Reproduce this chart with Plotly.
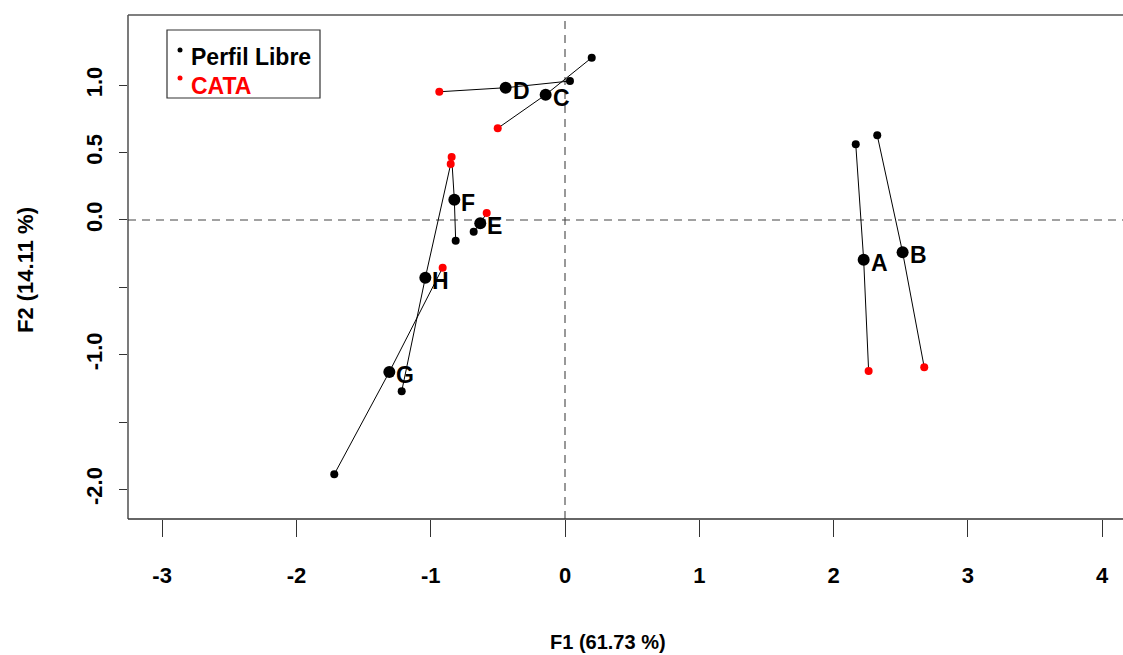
import plotly.graph_objects as go

# ---- data ----
products = ["A", "B", "C", "D", "E", "F", "G", "H"]
center_x = [2.224, 2.514, -0.144, -0.442, -0.631, -0.824, -1.308, -1.040]
center_y = [-0.295, -0.240, 0.930, 0.982, -0.024, 0.151, -1.128, -0.428]
libre_x = [2.165, 2.325, 0.199, 0.037, -0.680, -0.814, -1.718, -1.216]
libre_y = [0.562, 0.629, 1.205, 1.032, -0.087, -0.154, -1.888, -1.272]
cata_x = [2.261, 2.675, -0.501, -0.936, -0.583, -0.844, -0.911, -0.851]
cata_y = [-1.121, -1.094, 0.681, 0.952, 0.052, 0.468, -0.354, 0.416]
group_names = ["Perfil Libre", "CATA"]
x_ticks = [-3, -2, -1, 0, 1, 2, 3, 4]
y_ticks = [-2.0, -1.5, -1.0, -0.5, 0.0, 0.5, 1.0]
y_ticklabels = ["-2.0", "", "-1.0", "", "0.0", "0.5", "1.0"]
x_title = "F1 (61.73 %)"
y_title = "F2 (14.11 %)"

FONT = "Liberation Sans, Arial, Helvetica, sans-serif"

# segments libre -> center -> cata
seg_x, seg_y = [], []
for i in range(len(products)):
    seg_x += [libre_x[i], center_x[i], cata_x[i], None]
    seg_y += [libre_y[i], center_y[i], cata_y[i], None]

fig = go.Figure()
fig.add_trace(go.Scatter(x=seg_x, y=seg_y, mode="lines",
                         line=dict(color="black", width=1), hoverinfo="skip",
                         showlegend=False))
fig.add_trace(go.Scatter(x=libre_x, y=libre_y, mode="markers",
                         marker=dict(color="black", size=8), name=group_names[0],
                         showlegend=False))
fig.add_trace(go.Scatter(x=cata_x, y=cata_y, mode="markers",
                         marker=dict(color="#FF0000", size=8), name=group_names[1],
                         showlegend=False))
fig.add_trace(go.Scatter(x=center_x, y=center_y, mode="markers",
                         marker=dict(color="black", size=12), text=products,
                         showlegend=False))

shapes = [
    # reference dashed lines
    dict(type="line", xref="x", yref="paper", x0=0, x1=0, y0=0, y1=1,
         line=dict(color="#777777", width=1.5, dash="8px,6px"), layer="below"),
    dict(type="line", xref="paper", yref="y", x0=0, x1=1, y0=0, y1=0,
         line=dict(color="#444444", width=1.2, dash="8px,6px"), layer="below"),
    # box: left, top, bottom (right is off-image)
    dict(type="line", xref="paper", yref="paper", x0=0, x1=0, y0=0, y1=1,
         line=dict(color="#333333", width=1.3)),
    dict(type="line", xref="paper", yref="paper", x0=0, x1=1, y0=1, y1=1,
         line=dict(color="#555555", width=1.5)),
    dict(type="line", xref="paper", yref="paper", x0=0, x1=1, y0=0, y1=0,
         line=dict(color="#333333", width=1.3)),
]

# legend (manual)
W, H = 995, 504
def px(xp):
    return (xp - 128) / W
def py(yp):
    return (519 - yp) / H

shapes.append(dict(type="rect", xref="paper", yref="paper",
                   x0=px(167), x1=px(320), y0=py(98), y1=py(30),
                   line=dict(color="#333333", width=1.2), fillcolor="white"))
for col, yc in [("black", 50), ("#FF0000", 78)]:
    shapes.append(dict(type="circle", xref="paper", yref="paper",
                       xsizemode="pixel", ysizemode="pixel",
                       xanchor=px(180), yanchor=py(yc),
                       x0=-2.5, x1=2.5, y0=-2.5, y1=2.5,
                       fillcolor=col, line=dict(color=col, width=0)))

annotations = [
    dict(text=group_names[0], xref="paper", yref="paper", x=px(189), y=py(57),
         xanchor="left", yanchor="middle", showarrow=False,
         font=dict(family=FONT, size=23, color="black", weight="bold")),
    dict(text=group_names[1], xref="paper", yref="paper", x=px(189), y=py(86),
         xanchor="left", yanchor="middle", showarrow=False,
         font=dict(family=FONT, size=23, color="#FF0000", weight="bold")),
    dict(text=x_title, xref="paper", yref="paper", x=px(608), y=py(642),
         xanchor="center", yanchor="middle", showarrow=False,
         font=dict(family=FONT, size=20, color="black", weight="bold")),
    dict(text=y_title, xref="paper", yref="paper", x=px(25), y=py(270),
         xanchor="center", yanchor="middle", showarrow=False, textangle=-90,
         font=dict(family=FONT, size=22, color="black", weight="bold")),
]
# product labels to the right of each centre point
for name, cx, cy in zip(products, center_x, center_y):
    annotations.append(dict(text=name, xref="x", yref="y", x=cx, y=cy,
                            xanchor="left", yanchor="middle", showarrow=False,
                            xshift=5, yshift=-3,
                            font=dict(family=FONT, size=23, color="black", weight="bold")))

fig.update_layout(
    width=1123, height=655,
    margin=dict(l=128, r=0, t=15, b=136, autoexpand=False),
    paper_bgcolor="white", plot_bgcolor="white",
    shapes=shapes, annotations=annotations,
    showlegend=False,
    xaxis=dict(range=[-3.254, 4.155], tickvals=x_ticks,
               ticktext=[str(v) for v in x_ticks], automargin=False,
               showgrid=False, zeroline=False, showline=False,
               ticks="outside", ticklen=17, tickcolor="#333333", tickwidth=1.2,
               ticklabelstandoff=20,
               tickfont=dict(family=FONT, size=22, color="black", weight="bold")),
    yaxis=dict(range=[-2.220, 1.522], tickvals=y_ticks, ticktext=y_ticklabels,
               automargin=False,
               showgrid=False, zeroline=False, showline=False,
               ticks="outside", ticklen=8, tickcolor="#333333", tickwidth=1.2,
               tickangle=-90, ticklabelstandoff=8,
               tickfont=dict(family=FONT, size=22, color="black", weight="bold")),
)

fig.write_html("out.html", config={"displayModeBar": False},
               post_script="document.body.style.margin='0';document.body.style.overflow='hidden';")
